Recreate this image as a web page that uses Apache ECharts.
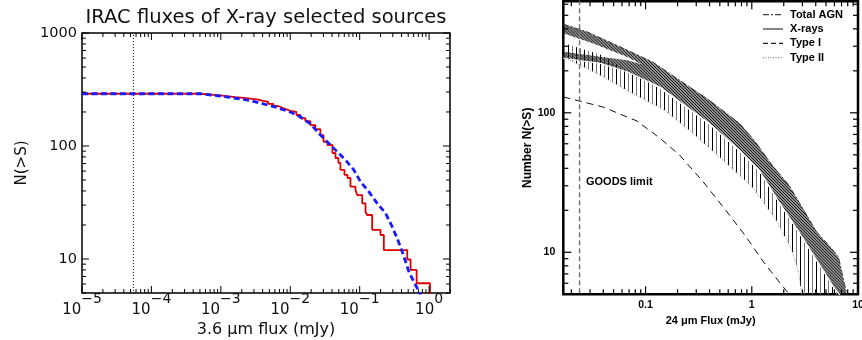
<!DOCTYPE html>
<html><head><meta charset="utf-8">
<script src="https://cdn.jsdelivr.net/npm/echarts@6/dist/echarts.min.js"></script>
<style>html,body{margin:0;padding:0;background:#fff}#c{width:862px;height:340px}</style>
</head><body><div id="c"></div>
<script>
// ===== Left panel: IRAC 3.6 micron counts =====
const iracLimitX = 5.5e-5;
const leftTickExps = [-5, -4, -3, -2, -1, 0];
const obsX = [1e-5, 5.05e-4, 7e-4, 9.8e-4, 1.3e-3, 1.61e-3, 2.1e-3, 2.65e-3, 3.3e-3, 3.95e-3, 4.8e-3, 5.7e-3, 6.7e-3, 7.69e-3, 8.8e-3, 0.01, 0.01225, 0.014, 0.0165, 0.0195, 0.023, 0.0272, 0.0301, 0.0343, 0.0405, 0.0448, 0.0494, 0.0528, 0.0604, 0.0667, 0.0736, 0.0869, 0.092, 0.1087, 0.1213, 0.1282, 0.1513, 0.1995, 0.2228, 0.484, 0.541, 0.661, 1.03];
const obsN = [290, 285, 280, 275, 271, 267, 263, 259, 252, 246, 236, 226, 218, 211, 205, 200, 188, 176, 166, 153, 141, 125, 109, 102, 86.7, 78.3, 70.8, 61.4, 55.4, 52.1, 43.7, 40.8, 36.8, 31.1, 26.2, 24.5, 18.1, 16.3, 12.0, 9.9, 8.0, 6.1, 1];
const modelX = [1e-5, 5.05e-4, 9.8e-4, 2.65e-3, 6.1e-3, 0.01, 0.014, 0.0195, 0.0272, 0.0358, 0.0473, 0.0624, 0.0823, 0.1028, 0.1352, 0.179, 0.2355, 0.294, 0.3475, 0.41, 0.458, 0.511, 0.604, 0.713, 0.805];
const modelN = [290, 290, 277, 253, 221, 200, 181, 157, 125, 106, 89.1, 75.2, 61.4, 48.3, 39.4, 31.1, 25.4, 19.3, 15.2, 11.6, 9.47, 7.72, 6.29, 5.14, 4.34];

// ===== Right panel: 24 micron counts =====
const goodsLimitX = 0.0239;
const uX = [0.0168, 0.0283, 0.0575, 0.117, 0.196, 0.399, 0.760, 1.05, 1.55, 2.23, 3.08, 4.08, 5.27, 6.54, 7.77, 8.3];
const uN = [432, 380, 297, 231, 177, 123, 84.4, 63.8, 42.2, 30.4, 20.1, 14.0, 11.3, 9.27, 5.12, 4.3];
const lX = [0.0168, 0.0374, 0.0668, 0.136, 0.399, 0.760, 1.17, 1.80, 2.77, 4.54, 5.87, 6.84];
const lN = [246, 226, 197, 153, 84, 54.1, 38.9, 23.0, 14.0, 7.73, 5.65, 4.87];
const d1X = [0.0168, 0.0322, 0.0668, 0.0923];
const d1N = [372, 314, 252, 223];
const d2X = [0.0168, 0.0374, 0.0668, 0.0923];
const d2N = [274, 252, 238, 223];
const vuX = [0.0168, 0.0374, 0.0668, 0.136, 0.399, 0.760, 1.17, 1.80, 2.77, 4.54, 5.87, 6.84];
const vuN = [316, 262, 200, 149, 82, 52.8, 37.9, 22.4, 13.65, 7.54, 5.51, 4.75];
const vlX = [0.0168, 0.0374, 0.0713, 0.151, 0.277, 0.399, 0.575, 1.007, 1.69, 2.38, 2.77, 2.95];
const vlN = [251, 186, 141, 104.5, 71.6, 55.9, 43.6, 29.4, 17.1, 10.4, 7.12, 4.95];
const t1X = [0.0168, 0.0399, 0.083, 0.136, 0.209, 0.344, 0.575, 0.885, 1.25, 1.69, 2.23, 2.5];
const t1N = [130, 109.9, 87.3, 65.9, 49.8, 32.4, 19.8, 12.9, 8.8, 6.56, 5.04, 4.5];
const legendNames = ['Total AGN', 'X-rays', 'Type I', 'Type II'];

// ===== helpers =====
const zip = (xs, ys) => xs.map((x, i) => [x, ys[i]]);
const isDecade = v => { const l = Math.log10(v); return Math.abs(l - Math.round(l)) < 1e-6; };
const measureCtx = document.createElement('canvas').getContext('2d');
const textWidth = (t, font) => { measureCtx.font = font; return measureCtx.measureText(t).width; };

// hatch line segments inside a pixel polygon, lines along direction d
function hatchSegments(pts, d, spacing, offset) {
  const n = [-d[1], d[0]];
  const proj = pts.map(p => p[0] * n[0] + p[1] * n[1]);
  const cmin = Math.min.apply(null, proj), cmax = Math.max.apply(null, proj);
  const segs = [];
  for (let k = Math.ceil((cmin - offset) / spacing); k * spacing + offset <= cmax; k++) {
    const c = k * spacing + offset;
    const hits = [];
    for (let i = 0; i < pts.length; i++) {
      const j = (i + 1) % pts.length;
      const pa = proj[i], pb = proj[j];
      if ((pa <= c && pb > c) || (pb <= c && pa > c)) {
        const t = (c - pa) / (pb - pa);
        const x = pts[i][0] + t * (pts[j][0] - pts[i][0]);
        const y = pts[i][1] + t * (pts[j][1] - pts[i][1]);
        hits.push([x, y, x * d[0] + y * d[1]]);
      }
    }
    hits.sort((a, b) => a[2] - b[2]);
    for (let h = 0; h + 1 < hits.length; h += 2) segs.push({ a: hits[h], b: hits[h + 1], k });
  }
  return segs;
}

function decadeTicks(min, max) {
  const maj = [], mnr = [];
  for (let e = Math.floor(Math.log10(min)); e <= Math.ceil(Math.log10(max)); e++) {
    for (let k = 1; k < 10; k++) {
      const v = k * Math.pow(10, e);
      if (v < min * 0.999 || v > max * 1.001) continue;
      (k === 1 ? maj : mnr).push(v);
    }
  }
  return { maj, mnr };
}
function tickSeries(idx, xr, yr, majLen, minLen, lw) {
  const xt = decadeTicks(xr[0], xr[1]), yt = decadeTicks(yr[0], yr[1]);
  const xRef = Math.sqrt(xr[0] * xr[1]), yRef = Math.sqrt(yr[0] * yr[1]);
  return {
    type: 'custom', xAxisIndex: idx, yAxisIndex: idx, silent: true, clip: false, z: 6,
    data: [[xRef, yRef]],
    renderItem: (params, api) => {
      const cs = params.coordSys;
      const top = cs.y, bot = cs.y + cs.height, lft = cs.x, rgt = cs.x + cs.width;
      const ch = [];
      const ln = (x1, y1, x2, y2) => ch.push({ type: 'line', shape: { x1, y1, x2, y2 }, style: { stroke: '#000', lineWidth: lw } });
      const addX = (v, len) => { const x = api.coord([v, yRef])[0]; ln(x, bot, x, bot - len); ln(x, top, x, top + len); };
      const addY = (v, len) => { const y = api.coord([xRef, v])[1]; ln(lft, y, lft + len, y); ln(rgt, y, rgt - len, y); };
      xt.maj.forEach(v => addX(v, majLen)); xt.mnr.forEach(v => addX(v, minLen));
      yt.maj.forEach(v => addY(v, majLen)); yt.mnr.forEach(v => addY(v, minLen));
      return { type: 'group', children: ch };
    }
  };
}
// power-of-ten tick labels (10 with raised exponent) placed through the x scale
const baseFont = '15px "DejaVu Sans"', supFont = '14px "DejaVu Sans"';
const powerLabelSeries = {
  type: 'custom', xAxisIndex: 0, yAxisIndex: 0, silent: true, clip: false, z: 6,
  data: [[1e-3, 100]],
  renderItem: (params, api) => {
    const cs = params.coordSys;
    const yb = cs.y + cs.height;
    const ch = [];
    leftTickExps.forEach(e => {
      const x = api.coord([Math.pow(10, e), 100])[0];
      const sup = e < 0 ? '\u2212' + (-e) : String(e);
      const wb = textWidth('10', baseFont), ws = textWidth(sup, supFont);
      const x0 = x - (wb + ws) / 2;
      ch.push({ type: 'text', x: x0, y: yb + 17, style: { text: '10', font: baseFont, fill: '#111', align: 'left', verticalAlign: 'middle' } });
      ch.push({ type: 'text', x: x0 + wb, y: yb + 6.5, style: { text: sup, font: supFont, fill: '#111', align: 'left', verticalAlign: 'middle' } });
    });
    return { type: 'group', children: ch };
  }
};
// hatched band: polygon from the edge arrays, filled with hatch lines
function bandSeries(points, opts, z) {
  return {
    type: 'custom', xAxisIndex: 1, yAxisIndex: 1, silent: true, clip: true, z,
    data: [[0.1, 100]],
    renderItem: (params, api) => {
      const px = points.map(p => api.coord(p));
      const ch = [];
      if (opts.fill) ch.push({ type: 'polygon', shape: { points: px }, style: { fill: opts.fill, stroke: null } });
      hatchSegments(px, opts.dir, opts.spacing, opts.offset).forEach(s => {
        ch.push({ type: 'line', shape: { x1: s.a[0], y1: s.a[1], x2: s.b[0], y2: s.b[1] },
          style: { stroke: opts.colors[((s.k % opts.colors.length) + opts.colors.length) % opts.colors.length], lineWidth: opts.width } });
      });
      return { type: 'group', children: ch };
    }
  };
}
const bandD = [].concat(zip(uX, uN), zip(lX, lN).reverse(), zip(d2X, d2N), zip(d1X, d1N).reverse());
const bandV = [].concat(zip(vuX, vuN), zip(vlX, vlN).reverse());
const SQ = Math.SQRT1_2;

const leftFont = 'DejaVu Sans';
const rightFont = 'Liberation Sans';
const chart = echarts.init(document.getElementById('c'), null, { renderer: 'canvas' });

const legendGraphics = [];
const legendDash = [[6, 2, 2, 2], null, [5, 3], [1, 1.5]];
const legendColor = ['#444', '#444', '#222', '#888'];
legendNames.forEach((nm, i) => {
  const y = 14.7 + 14.3 * i;
  legendGraphics.push({ type: 'line', shape: { x1: 763, y1: y, x2: 783, y2: y }, style: { stroke: legendColor[i], lineWidth: 1.3, lineDash: legendDash[i] } });
  legendGraphics.push({ type: 'text', x: 790, y: y, style: { text: nm, font: 'bold 11px "Liberation Sans"', fill: '#000', textVerticalAlign: 'middle', verticalAlign: 'middle' } });
});

const option = {
  animation: false,
  backgroundColor: '#fff',
  title: {
    text: 'IRAC fluxes of X-ray selected sources', left: 266, top: 8, padding: 0, textAlign: 'center',
    textStyle: { fontFamily: leftFont, fontSize: 19.5, fontWeight: 'normal', color: '#111' }
  },
  grid: [
    { left: 82, top: 33, width: 368, height: 260, show: true, borderColor: '#000', borderWidth: 1.5, backgroundColor: 'transparent', outerBoundsMode: 'none', containLabel: false },
    { left: 563.3, top: 1.3, width: 294.7, height: 293, show: true, borderColor: '#000', borderWidth: 2.5, backgroundColor: 'transparent', outerBoundsMode: 'none', containLabel: false }
  ],
  xAxis: [
    {
      type: 'log', gridIndex: 0, min: 1e-5, max: 2,
      axisLine: { show: false }, axisTick: { show: false }, splitLine: { show: false }, minorTick: { show: false },
      axisLabel: { show: false },
      name: '3.6 \u03bcm flux (mJy)', nameLocation: 'middle', nameGap: 29,
      nameTextStyle: { fontFamily: leftFont, fontSize: 16, color: '#111' }
    },
    {
      type: 'log', gridIndex: 1, min: 0.0168, max: 10,
      axisLine: { show: false }, axisTick: { show: false }, splitLine: { show: false }, minorTick: { show: false },
      axisLabel: {
        margin: 5, color: '#000', fontFamily: rightFont, fontWeight: 'bold', fontSize: 10.5,
        formatter: v => {
          if (!isDecade(v)) return '';
          const e = Math.round(Math.log10(v));
          return e < 0 ? '0.' + '0'.repeat(-e - 1) + '1' : String(Math.pow(10, e));
        }
      },
      name: '24 \u03bcm Flux (mJy)', nameLocation: 'middle', nameGap: 20,
      nameTextStyle: { fontFamily: rightFont, fontWeight: 'bold', fontSize: 11, color: '#000' }
    }
  ],
  yAxis: [
    {
      type: 'log', gridIndex: 0, min: 5, max: 1000,
      axisLine: { show: false }, axisTick: { show: false }, splitLine: { show: false }, minorTick: { show: false },
      axisLabel: {
        margin: 5, color: '#111', fontFamily: leftFont, fontSize: 14.5,
        formatter: v => isDecade(v) ? String(Math.round(v)) : ''
      },
      name: 'N(>S)', nameLocation: 'middle', nameGap: 52, nameRotate: 90,
      nameTextStyle: { fontFamily: leftFont, fontSize: 15, color: '#111' }
    },
    {
      type: 'log', gridIndex: 1, min: 5, max: 630,
      axisLine: { show: false }, axisTick: { show: false }, splitLine: { show: false }, minorTick: { show: false },
      axisLabel: {
        margin: 8, color: '#000', fontFamily: rightFont, fontWeight: 'bold', fontSize: 10.5,
        formatter: v => isDecade(v) ? String(Math.round(v)) : ''
      },
      name: 'Number N(>S)', nameLocation: 'middle', nameGap: 20, nameRotate: 90,
      nameTextStyle: { fontFamily: rightFont, fontWeight: 'bold', fontSize: 12, color: '#000' }
    }
  ],
  graphic: [
    { type: 'text', x: 586, y: 182, style: { text: 'GOODS limit', font: 'bold 11px "Liberation Sans"', fill: '#000', verticalAlign: 'middle', textVerticalAlign: 'middle' } }
  ].concat(legendGraphics),
  series: [
    // left panel
    {
      type: 'line', name: 'IRAC limit', xAxisIndex: 0, yAxisIndex: 0, symbol: 'none', silent: true,
      data: [[iracLimitX, 3], [iracLimitX, 3000]],
      lineStyle: { color: '#000', width: 1, type: [1, 2] }
    },
    {
      type: 'line', name: 'observed', xAxisIndex: 0, yAxisIndex: 0, symbol: 'none', silent: true, step: 'end', z: 3,
      data: zip(obsX, obsN),
      lineStyle: { color: '#e00000', width: 1.8 }
    },
    {
      type: 'line', name: 'model', xAxisIndex: 0, yAxisIndex: 0, symbol: 'none', silent: true, z: 4,
      data: zip(modelX, modelN),
      lineStyle: { color: '#1a1aff', width: 2.8, type: [6, 3.5] }
    },
    tickSeries(0, [1e-5, 2], [5, 1000], 7, 4, 1),
    powerLabelSeries,
    // right panel
    bandSeries(bandV, { dir: [0, 1], spacing: 4, offset: -0.5, colors: ['#000', '#777'], width: 1 }, 2),
    bandSeries(bandD, { dir: [SQ, SQ], spacing: 2.1, offset: 0, colors: ['#111'], width: 1, fill: 'rgba(0,0,0,0.42)' }, 3),
    {
      type: 'line', name: 'Total AGN', xAxisIndex: 1, yAxisIndex: 1, symbol: 'none', silent: true, z: 4,
      data: zip(uX, uN), lineStyle: { color: '#444', width: 1, type: [6, 2, 2, 2] }
    },
    {
      type: 'line', name: 'X-rays', xAxisIndex: 1, yAxisIndex: 1, symbol: 'none', silent: true, z: 4,
      data: zip(lX, lN), lineStyle: { color: '#fff', width: 1.2 }
    },
    {
      type: 'line', name: 'Type I', xAxisIndex: 1, yAxisIndex: 1, symbol: 'none', silent: true, z: 4,
      data: zip(t1X, t1N), lineStyle: { color: '#111', width: 1, type: [7, 5] }
    },
    {
      type: 'line', name: 'Type II', xAxisIndex: 1, yAxisIndex: 1, symbol: 'none', silent: true, z: 4,
      data: zip(vlX, vlN), lineStyle: { color: '#999', width: 1, type: [1, 1.5] }
    },
    {
      type: 'line', name: 'GOODS limit', xAxisIndex: 1, yAxisIndex: 1, symbol: 'none', silent: true, z: 4,
      data: [[goodsLimitX, 3], [goodsLimitX, 3000]],
      lineStyle: { color: '#777', width: 1.5, type: [5, 3] }
    },
    tickSeries(1, [0.0168, 10], [5, 630], 8, 5, 1.2)
  ]
};
chart.setOption(option);
</script></body></html>
